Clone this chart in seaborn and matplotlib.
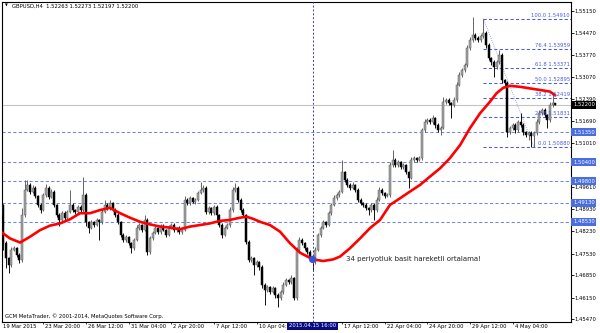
import numpy as np
import pandas as pd
import matplotlib
matplotlib.use("Agg")
import matplotlib.pyplot as plt
import matplotlib.transforms as mtransforms
import seaborn as sns

# ---------------- data ----------------
title_text = "GBPUSD,H4  1.52263 1.52273 1.52197 1.52200"
copyright_text = "GCM MetaTrader, \u00a9 2001-2014, MetaQuotes Software Corp."
ma_note = "34 periyotluk basit hareketli ortalama!"

first_open = 1.4874
closes = [
    1.4906, 1.4786, 1.4739, 1.4717, 1.4765, 1.4771, 1.4749, 1.4733, 1.4874, 1.4953,
    1.4969, 1.4947, 1.4959, 1.4934, 1.4906, 1.4890, 1.4937, 1.4959, 1.4931, 1.4947,
    1.4906, 1.4874, 1.4859, 1.4881, 1.4865, 1.4884, 1.4906, 1.4890, 1.4884, 1.4900,
    1.4890, 1.4937, 1.4852, 1.4834, 1.4852, 1.4843, 1.4859, 1.4852, 1.4884, 1.4906,
    1.4896, 1.4912, 1.4890, 1.4874, 1.4852, 1.4812, 1.4796, 1.4805, 1.4786, 1.4771,
    1.4796, 1.4834, 1.4843, 1.4827, 1.4859, 1.4758, 1.4802, 1.4818, 1.4834, 1.4821,
    1.4840, 1.4827, 1.4812, 1.4834, 1.4843, 1.4827, 1.4834, 1.4821, 1.4827, 1.4922,
    1.4912, 1.4928, 1.4915, 1.4922, 1.4943, 1.4953, 1.4959, 1.4884, 1.4896, 1.4881,
    1.4900, 1.4874, 1.4843, 1.4812, 1.4834, 1.4843, 1.4890, 1.4953, 1.4959, 1.4922,
    1.4890, 1.4874, 1.4790, 1.4733, 1.4739, 1.4717, 1.4727, 1.4711, 1.4655, 1.4639,
    1.4648, 1.4633, 1.4645, 1.4623, 1.4614, 1.4633, 1.4655, 1.4670, 1.4664, 1.4677,
    1.4614, 1.4765, 1.4796, 1.4786, 1.4771, 1.4758, 1.4739, 1.4727, 1.4765, 1.4812,
    1.4834, 1.4852, 1.4843, 1.4881, 1.4906, 1.4928, 1.4937, 1.4947, 1.5009, 1.4984,
    1.4969, 1.4959, 1.4969, 1.4953, 1.4922, 1.4912, 1.4906, 1.4896, 1.4890, 1.4906,
    1.4890, 1.4922, 1.4953, 1.4943, 1.4934, 1.4937, 1.5031, 1.5047, 1.5031, 1.5041,
    1.5025, 1.5031, 1.5009, 1.4991, 1.5047, 1.5053, 1.5047, 1.5053, 1.5141, 1.5166,
    1.5173, 1.5166, 1.5179, 1.5157, 1.5141, 1.5148, 1.5229, 1.5236, 1.5226, 1.5220,
    1.5236, 1.5283, 1.5314, 1.5330, 1.5345, 1.5399, 1.5424, 1.5440, 1.5430, 1.5424,
    1.5436, 1.5446, 1.5408, 1.5367, 1.5355, 1.5339, 1.5355, 1.5377, 1.5298, 1.5289,
    1.5135, 1.5148, 1.5157, 1.5141, 1.5166, 1.5157, 1.5135, 1.5126, 1.5132, 1.5122,
    1.5132, 1.5166, 1.5195, 1.5204, 1.5188, 1.5173, 1.5220, 1.52263, 1.52200,
]
upper_pips = [
    5, 4, 6, 5, 8, 6, 4, 5, 22, 31,
    16, 6, 9, 5, 4, 6, 7, 12, 5, 8,
    5, 4, 6, 7, 5, 6, 47, 5, 4, 7,
    6, 56, 5, 4, 7, 5, 6, 4, 8, 16,
    5, 9, 4, 5, 6, 4, 5, 7, 4, 5,
    6, 8, 5, 4, 16, 5, 7, 6, 5, 4,
    7, 5, 4, 8, 5, 6, 4, 5, 6, 12,
    5, 7, 4, 6, 8, 25, 9, 5, 6, 4,
    7, 5, 4, 5, 6, 7, 8, 10, 16, 5,
    6, 5, 4, 6, 8, 5, 7, 4, 5, 6,
    8, 5, 7, 4, 5, 6, 8, 7, 5, 9,
    4, 10, 9, 6, 5, 4, 5, 6, 8, 7,
    6, 8, 5, 7, 6, 8, 5, 6, 38, 5,
    6, 5, 8, 4, 5, 6, 4, 5, 4, 7,
    5, 8, 9, 6, 5, 6, 10, 31, 5, 7,
    4, 6, 5, 4, 9, 6, 5, 7, 8, 9,
    6, 5, 8, 4, 5, 6, 16, 7, 5, 4,
    8, 10, 9, 7, 8, 10, 9, 57, 6, 5,
    8, 45, 5, 6, 4, 5, 7, 16, 5, 4,
    5, 7, 6, 5, 8, 29, 5, 4, 6, 5,
    7, 9, 8, 6, 5, 4, 10, 29, 1,
]
lower_pips = [
    5, 22, 31, 25, 6, 5, 7, 8, 6, 5,
    4, 6, 5, 7, 5, 9, 4, 5, 6, 4,
    6, 5, 19, 4, 6, 5, 4, 6, 5, 4,
    6, 5, 12, 16, 5, 6, 4, 56, 5, 4,
    6, 5, 4, 6, 5, 7, 6, 5, 6, 16,
    5, 4, 6, 5, 4, 9, 5, 6, 4, 5,
    6, 4, 7, 5, 4, 6, 5, 7, 5, 4,
    6, 5, 4, 6, 5, 4, 5, 6, 5, 7,
    5, 22, 6, 9, 5, 4, 5, 6, 5, 7,
    6, 5, 8, 7, 6, 31, 5, 8, 10, 47,
    6, 8, 5, 9, 28, 5, 6, 4, 7, 5,
    6, 5, 4, 6, 7, 5, 6, 25, 5, 4,
    6, 5, 7, 4, 5, 4, 6, 5, 4, 7,
    6, 5, 4, 6, 8, 5, 7, 6, 16, 5,
    31, 5, 4, 6, 5, 4, 5, 6, 7, 5,
    6, 5, 7, 31, 5, 6, 5, 4, 5, 6,
    5, 7, 6, 8, 7, 16, 5, 6, 7, 41,
    5, 6, 5, 7, 5, 6, 8, 5, 7, 6,
    5, 6, 8, 7, 9, 31, 6, 5, 8, 9,
    16, 7, 6, 8, 6, 7, 8, 6, 16, 34,
    34, 5, 6, 8, 7, 25, 6, 7, 0.3,
]

# 34-period simple moving average
ma_bars = [0.4, 3.5, 7.3, 11.0, 14.8, 18.5, 22.3, 26.0, 29.8, 33.5, 37.3, 41.0, 44.8,
           48.5, 52.3, 56.0, 59.8, 63.5, 67.3, 71.0, 74.8, 78.5, 82.3, 86.0, 89.8,
           92.3, 94.8, 97.3, 101.0, 104.8, 108.5, 112.3, 117.1, 121.0, 124.7, 127.3,
           131.0, 134.8, 138.5, 142.3, 146.0, 149.8, 153.5, 157.3, 161.0, 164.8,
           168.5, 172.3, 176.0, 179.8, 183.5, 186.0, 188.5, 191.0, 194.8, 198.5,
           202.3, 206.0, 208.0]
ma_values = [1.4820, 1.4801, 1.4788, 1.4806, 1.4827, 1.4841, 1.4848, 1.4861, 1.4880,
             1.4880, 1.4890, 1.4897, 1.4880, 1.4866, 1.4853, 1.4845, 1.4838, 1.4835,
             1.4830, 1.4838, 1.4843, 1.4848, 1.4856, 1.4859, 1.4866, 1.4869, 1.4862,
             1.4853, 1.4843, 1.4822, 1.4786, 1.4756, 1.4735, 1.4730, 1.4735, 1.4744,
             1.4770, 1.4801, 1.4833, 1.4859, 1.4906, 1.4927, 1.4948, 1.4969, 1.4995,
             1.5021, 1.5053, 1.5094, 1.5147, 1.5194, 1.5230, 1.5257, 1.5274, 1.5280,
             1.5277, 1.5272, 1.5267, 1.5262, 1.5250]

x_tick_bars = [0, 16, 32, 48, 64, 80, 96, 128, 144, 160, 176, 192]
x_tick_labels = ["19 Mar 2015", "23 Mar 20:00", "26 Mar 12:00", "31 Mar 04:00",
                 "2 Apr 20:00", "7 Apr 12:00", "10 Apr 04:00", "17 Apr 12:00",
                 "22 Apr 04:00", "24 Apr 20:00", "29 Apr 12:00", "4 May 04:00"]
y_ticks = [1.55150, 1.54470, 1.53770, 1.53070, 1.52390, 1.51690, 1.51010, 1.50310,
           1.49610, 1.48930, 1.48230, 1.47530, 1.46850, 1.46150, 1.45470]
y_ticks_hidden = [1.50310]   # covered by the 1.50400 level box in the chart

level_prices = [1.51350, 1.50400, 1.49800, 1.49130, 1.48530]
bid_price = 1.52200

fib_ratios = [100.0, 76.4, 61.8, 50.0, 38.2, 23.6, 0.0]
fib_high = 1.54910
fib_low = 1.50880
fib_start_bar = 181
fib_end_bar = 200

crosshair_bar = 117
crosshair_price = 1.4735
crosshair_label = "2015.04.15 16:00"
note_bar = 129.5
note_price = 1.4737

# ---------------- figure ----------------
sns.set_style("white")
plt.rcParams["font.family"] = ["DejaVu Sans"]

fig = plt.figure(figsize=(6.0, 3.33), dpi=100)
ax = fig.add_axes([2 / 600, 11.5 / 333, 569 / 600, 319.5 / 333])
ax.set_facecolor("white")

n = len(closes)
bars = np.arange(n)
c = np.array(closes)
o = np.array([first_open] + closes[:-1])
hi = np.maximum(o, c) + np.array(upper_pips) * 1e-4
lo = np.minimum(o, c) - np.array(lower_pips) * 1e-4
df = pd.DataFrame({"bar": bars, "open": o, "high": hi, "low": lo, "close": c})
df["bull"] = df["close"] >= df["open"]

bull_fill, bull_edge = "#a4a4a4", "#5a5a5a"
bear_fill = "#000000"

lvl_color = "#6f86e6"
fib_color = "#4a5ddf"
box_blue = "#4a6ee0"

# horizontal levels
for p in level_prices:
    ax.axhline(p, color=lvl_color, lw=0.75, ls=(0, (3, 2.2)), zorder=1)
ax.axhline(bid_price, color="#c4c4c4", lw=0.8, zorder=1)

# candles
for is_bull, grp in df.groupby("bull"):
    wick_c = bull_edge if is_bull else bear_fill
    ax.vlines(grp["bar"], grp["low"], grp["high"], color=wick_c, lw=0.65, zorder=3)
    body_low = np.minimum(grp["open"], grp["close"])
    body_h = np.maximum(np.abs(grp["close"] - grp["open"]), 0.00006)
    ax.bar(grp["bar"], body_h, bottom=body_low, width=0.8,
           color=bull_fill if is_bull else bear_fill,
           edgecolor=bull_edge if is_bull else bear_fill, linewidth=0.35, zorder=4)

# moving average
sns.lineplot(x=ma_bars, y=ma_values, color="#ff0000", lw=1.9, ax=ax, zorder=5,
             sort=False)

# fibonacci
fib_prices = [fib_low + (fib_high - fib_low) * r / 100 for r in fib_ratios]
xr = 213.9
for r, p in zip(fib_ratios, fib_prices):
    ax.hlines(p, fib_start_bar, xr, color=fib_color, lw=0.75, ls=(0, (3, 2.2)), zorder=2)
    ax.text(0.998, p + 0.0002, f"{r:.1f} {p:.5f}",
            transform=mtransforms.blended_transform_factory(ax.transAxes, ax.transData),
            ha="right", va="bottom", fontsize=3.8, color=fib_color, zorder=6)
ax.plot([fib_start_bar, fib_end_bar], [fib_high, fib_low], color="#7d8fd8",
        lw=0.6, ls=(0, (1, 1.5)), zorder=2)

# crosshair
ax.axvline(crosshair_bar, color="#3a3aa8", lw=0.7, ls=(0, (2, 2)), zorder=6)
ax.scatter([crosshair_bar], [crosshair_price], s=28, color="#3b52d6", zorder=7,
           edgecolor="none")
ax.text(note_bar, note_price, ma_note, fontsize=5.0, color="#222222",
        ha="left", va="center", zorder=7)

# axes
ax.set_xlim(0.52, xr)
ax.set_ylim(1.45400, 1.55433)
for s in ax.spines.values():
    s.set_color("#000000")
    s.set_linewidth(0.8)

ax.yaxis.tick_right()
ax.set_yticks(y_ticks)
ax.set_yticklabels(["" if v in y_ticks_hidden else f"{v:.5f}" for v in y_ticks])
ax.tick_params(axis="y", which="both", right=True, left=False, direction="out",
               length=2, width=0.6, pad=0.8, labelsize=3.8, colors="#000000")

ax.set_xticks(x_tick_bars[1:])
ax.set_xticklabels([])
ax.tick_params(axis="x", bottom=True, direction="out", length=1.6, width=0.6)
bt = mtransforms.blended_transform_factory(ax.transData, ax.transAxes)
off = mtransforms.ScaledTranslation(2 / 100, 0, fig.dpi_scale_trans)
for b, lab in zip(x_tick_bars, x_tick_labels):
    ax.text(b, -0.008, lab, transform=bt + off, ha="left", va="top",
            fontsize=3.8, color="#000000", clip_on=False)

ax.text(crosshair_bar, -0.006, crosshair_label, transform=bt, ha="center", va="top",
        fontsize=3.8, color="white", clip_on=False, zorder=20,
        bbox=dict(boxstyle="square,pad=0.3", fc="#0a0a80", ec="none"))

yt = mtransforms.blended_transform_factory(ax.transAxes, ax.transData)
for p in level_prices:
    ax.text(1.0035, p, f"{p:.5f}", transform=yt, ha="left", va="center",
            fontsize=3.8, color="white", clip_on=False, zorder=20,
            bbox=dict(boxstyle="square,pad=0.3", fc=box_blue, ec="none"))
ax.text(1.0035, bid_price, f"{bid_price:.5f}", transform=yt, ha="left", va="center",
        fontsize=3.8, color="white", clip_on=False, zorder=20,
        bbox=dict(boxstyle="square,pad=0.3", fc="#000000", ec="none"))

# header and footer texts
ax.text(0.0053, 0.9875, "\u25bc", transform=ax.transAxes, fontsize=2.6,
        ha="left", va="center", color="#000000")
ax.text(0.0176, 0.9875, title_text, transform=ax.transAxes, fontsize=3.8,
        ha="left", va="center", color="#000000")
ax.text(0.0053, 0.0172, copyright_text, transform=ax.transAxes, fontsize=3.8,
        ha="left", va="center", color="#000000")

ax.set_xlabel("")
ax.set_ylabel("")
fig.savefig("out.png", dpi=100, facecolor="white")
